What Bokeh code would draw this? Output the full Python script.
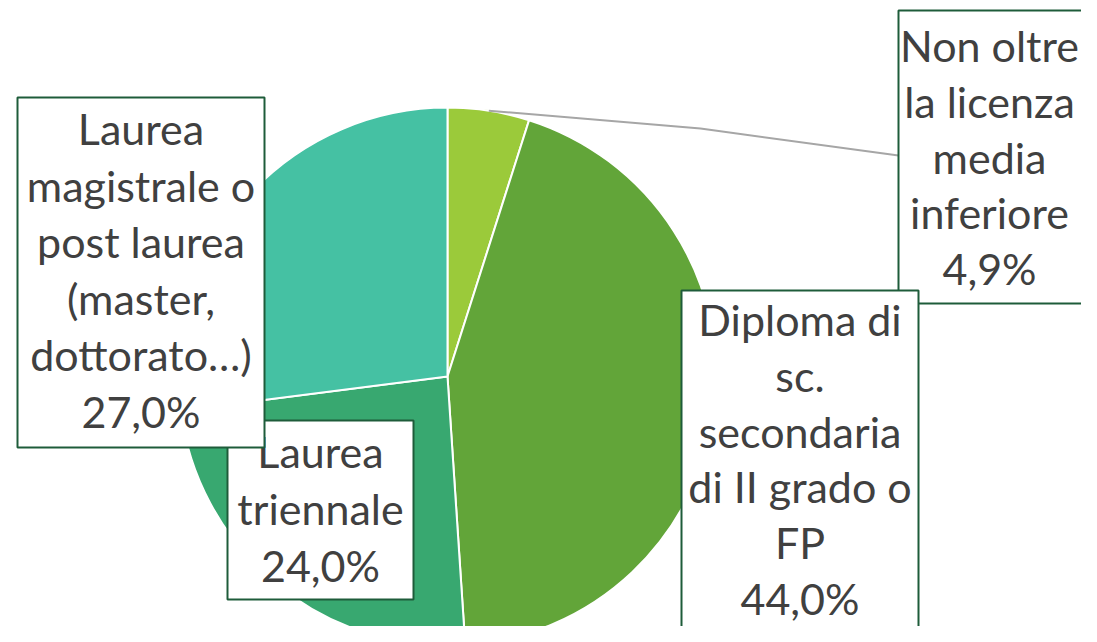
import math
from bokeh.plotting import figure
from bokeh.models import Range1d, ColumnDataSource
from bokeh.core.properties import value
from bokeh.embed import file_html
from bokeh.resources import INLINE

# ---------------- data ----------------
categories = [
    "Non oltre la licenza media inferiore",
    "Diploma di sc. secondaria di II grado o FP",
    "Laurea triennale",
    "Laurea magistrale o post laurea (master, dottorato…)",
]
shares = [4.9, 44.0, 24.0, 27.0]
label_lines = [
    ["Non oltre", "la licenza", "media", "inferiore"],
    ["Diploma di", "sc.", "secondaria", "di II grado o", "FP"],
    ["Laurea", "triennale"],
    ["Laurea", "magistrale o", "post laurea", "(master,", "dottorato…)"],
]
colors = ["#9BCA3A", "#62A539", "#38A870", "#45C1A3"]

# ---------------- layout (reference pixel space) ----------------
W, H = 1081, 626
REF_H = 642
TEXT_SHIFT = 17  # compensation for the renderer's baseline placement


def fy(y):
    return REF_H - y


p = figure(width=W, height=H, output_backend="svg", toolbar_location=None,
           x_range=Range1d(0, W), y_range=Range1d(REF_H - H, REF_H),
           x_axis_location=None, y_axis_location=None, min_border=0)
p.grid.visible = False
p.outline_line_color = None
p.background_fill_color = "white"
p.border_fill_color = "white"

cx, cy, r = 447, fy(376), 269
total = sum(shares)
starts, ends, mids = [], [], []
cum = 0.0
for v in shares:
    a0 = math.pi / 2 - 2 * math.pi * cum / total
    cum += v
    a1 = math.pi / 2 - 2 * math.pi * cum / total
    starts.append(a0)
    ends.append(a1)
    mids.append((a0 + a1) / 2)

src = ColumnDataSource(dict(start=starts, end=ends, color=colors, cat=categories))
p.wedge(x=cx, y=cy, radius=r, start_angle="start", end_angle="end", direction="clock",
        fill_color="color", line_color="white", line_width=2, source=src)

# label boxes: (left, right, top, bottom, text centre x, first baseline, line step)
boxes = [
    (898, 1090, 10, 303, 989, 62, 55.8),
    (681, 918, 290, 638, 799.5, 336, 55.8),
    (227, 413, 420, 599, 320, 468, 57.0),
    (17, 264, 97, 447, 140.5, 145, 56.6),
]

# leader line for the small slice
lx0 = cx + r * math.cos(mids[0])
ly0 = cy + r * math.sin(mids[0])
p.line([lx0, 700, boxes[0][0]], [ly0, fy(128), fy(155)], line_color="#A6A6A6", line_width=2)

border = "#1E5C3A"
text_col = "#404040"

for i in range(len(categories)):
    left, right, top, bottom, tx, base0, step = boxes[i]
    p.quad(left=left, right=right, top=fy(top), bottom=fy(bottom),
           fill_color="white", line_color=border, line_width=2)
    lines = label_lines[i] + [f"{shares[i]:.1f}".replace(".", ",") + "%"]
    xs = [tx] * len(lines)
    ys = [fy(base0 + k * step - TEXT_SHIFT) for k in range(len(lines))]
    p.text(x=xs, y=ys, text=lines, text_align="center", text_baseline="alphabetic",
           text_font=value("Lato"), text_font_size="43px", text_color=text_col)

open("out.html", "w").write(file_html(p, INLINE))
